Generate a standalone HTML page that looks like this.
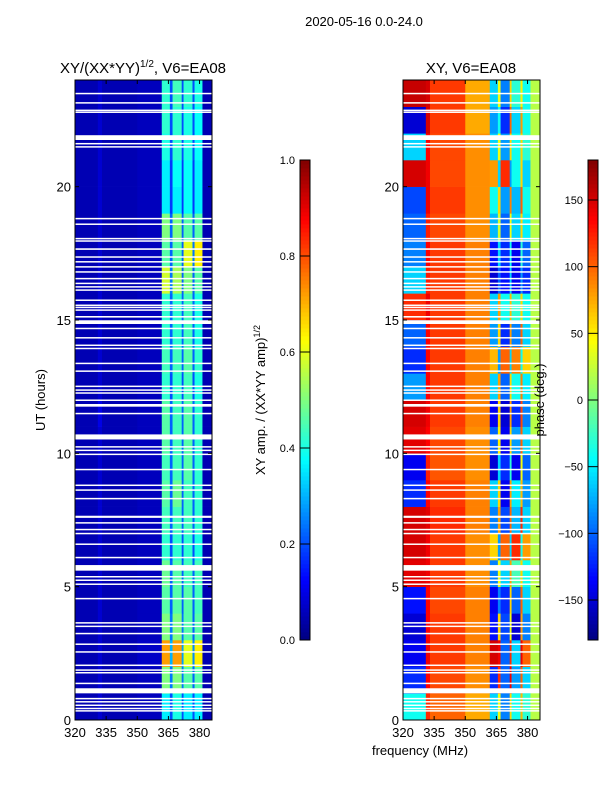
<!DOCTYPE html>
<html><head><meta charset="utf-8">
<style>
html,body{margin:0;padding:0;background:#fff;}
svg{display:block;font-family:"Liberation Sans","DejaVu Sans",sans-serif;}
</style></head>
<body>
<svg id="fig" width="600" height="800" viewBox="0 0 600 800" xmlns="http://www.w3.org/2000/svg">
<rect x="0" y="0" width="600" height="800" fill="#fff"/>
<text x="364" y="26" font-size="13" text-anchor="middle">2020-05-16 0.0-24.0</text>
<text x="143" y="73" font-size="15" text-anchor="middle">XY/(XX*YY)<tspan font-size="10" dy="-6">1/2</tspan><tspan dy="6">, V6=EA08</tspan></text>
<text x="471" y="73" font-size="15" text-anchor="middle">XY, V6=EA08</text>
<text x="45" y="400" font-size="13" text-anchor="middle" transform="rotate(-90 45 400)">UT (hours)</text>
<text x="420" y="755" font-size="13" text-anchor="middle">frequency (MHz)</text>
<text x="265" y="400" font-size="13" text-anchor="middle" transform="rotate(-90 265 400)">XY amp. / (XX*YY amp)<tspan font-size="9" dy="-5">1/2</tspan></text>
<g id="ampPanel"></g>
<g id="phasePanel"></g>
<g id="axes"></g>
<g id="cbars"></g>
<text x="544" y="400" font-size="13" text-anchor="middle" transform="rotate(-90 544 400)">phase (deg.)</text>
</svg>
<script>
// frequency bin edges (MHz)
const freqEdges = [320,331,333,350,361.8,365.7,367,371.4,372.3,376.6,377.6,381.4,386];
// normalized amplitude, one row per hour (0..23), columns per freq bin
const ampRows = [
[0.05,0.08,0.05,0.06,0.36,0.2,0.40,0.2,0.36,0.2,0.36,0.05],
[0.05,0.08,0.05,0.06,0.50,0.24,0.50,0.24,0.46,0.22,0.46,0.05],
[0.05,0.08,0.05,0.07,0.72,0.3,0.72,0.28,0.60,0.26,0.64,0.05],
[0.05,0.08,0.05,0.06,0.50,0.24,0.50,0.24,0.46,0.22,0.46,0.05],
[0.05,0.08,0.05,0.06,0.46,0.22,0.46,0.22,0.46,0.22,0.44,0.05],
[0.05,0.08,0.05,0.06,0.48,0.22,0.46,0.22,0.44,0.22,0.44,0.05],
[0.05,0.08,0.05,0.06,0.42,0.2,0.42,0.2,0.42,0.2,0.40,0.05],
[0.05,0.08,0.05,0.06,0.44,0.22,0.44,0.22,0.44,0.22,0.42,0.05],
[0.05,0.08,0.05,0.06,0.46,0.22,0.48,0.22,0.44,0.22,0.42,0.05],
[0.05,0.08,0.05,0.06,0.44,0.22,0.44,0.22,0.46,0.22,0.42,0.05],
[0.05,0.08,0.05,0.06,0.46,0.22,0.44,0.22,0.46,0.22,0.42,0.05],
[0.05,0.1,0.05,0.06,0.46,0.22,0.44,0.22,0.46,0.22,0.42,0.05],
[0.05,0.08,0.05,0.06,0.42,0.2,0.42,0.2,0.44,0.2,0.40,0.05],
[0.05,0.08,0.05,0.06,0.44,0.22,0.44,0.22,0.46,0.22,0.42,0.05],
[0.05,0.08,0.05,0.06,0.42,0.22,0.42,0.22,0.44,0.22,0.40,0.05],
[0.05,0.08,0.05,0.06,0.42,0.22,0.42,0.22,0.44,0.22,0.40,0.05],
[0.05,0.08,0.05,0.06,0.58,0.24,0.54,0.22,0.50,0.22,0.46,0.05],
[0.05,0.08,0.05,0.06,0.46,0.22,0.46,0.22,0.60,0.24,0.64,0.05],
[0.05,0.08,0.05,0.06,0.50,0.22,0.50,0.22,0.46,0.22,0.46,0.05],
[0.05,0.08,0.05,0.06,0.36,0.18,0.36,0.18,0.38,0.18,0.36,0.05],
[0.05,0.08,0.05,0.06,0.36,0.18,0.38,0.18,0.38,0.18,0.36,0.05],
[0.05,0.08,0.05,0.06,0.40,0.2,0.42,0.2,0.40,0.2,0.38,0.05],
[0.05,0.08,0.05,0.06,0.42,0.2,0.42,0.2,0.40,0.2,0.38,0.05],
[0.05,0.08,0.05,0.06,0.42,0.2,0.44,0.2,0.42,0.2,0.40,0.05]
];
// phase in degrees, one row per hour
const phaseRows = [
[-40,120,100,75,-60,40,-90,60,-40,70,-30,20],
[-120,135,110,85,-120,120,-100,140,-80,100,-60,20],
[-140,140,115,90,150,140,-100,120,-60,140,100,20],
[-150,135,115,90,-130,60,-110,40,-150,80,-90,20],
[-130,135,110,90,-140,-90,-120,60,-100,100,-60,20],
[145,140,115,85,-90,40,-60,80,-20,60,-40,20],
[150,140,115,85,60,-80,100,-60,120,-40,80,20],
[150,145,120,90,-90,80,-110,100,-70,120,-60,20],
[-120,135,115,90,-60,60,-140,80,-50,70,-80,20],
[-140,125,105,85,-150,-60,-120,-30,-140,40,-100,20],
[145,135,110,85,-100,50,-140,60,-80,100,-60,20],
[150,140,115,90,-140,60,-150,80,-120,110,-90,20],
[-80,135,115,90,-60,80,-100,60,-40,90,-50,20],
[-120,135,115,90,70,-80,100,-60,90,-40,60,20],
[-100,135,115,90,-80,60,-120,80,-90,100,-60,20],
[120,140,115,90,-60,80,-40,70,-30,60,-40,20],
[-60,125,115,90,-150,-100,-130,-60,-140,-80,-120,20],
[-90,135,115,90,-130,-60,-120,-40,-140,-30,-100,20],
[-100,125,110,85,-70,30,-100,40,-60,60,-50,20],
[-110,140,115,85,-40,60,-80,90,-70,100,-40,20],
[150,140,110,85,80,-60,120,-80,-40,60,-60,20],
[-60,135,110,85,-60,40,-80,60,-40,60,-30,20],
[-150,150,115,75,-80,-40,-120,100,-60,80,-40,20],
[155,150,115,75,-60,40,-90,60,-30,50,-40,20]
];
// flagged (blank) time ranges in hours [start, end]
const gapRanges = [
[0.33,0.37],[0.42,0.46],[0.54,0.58],[0.67,0.71],[0.79,0.83],[1.0,1.19],[1.36,1.4],[1.76,1.8],[1.86,1.9],[2.04,2.08],
[2.54,2.58],[2.83,2.87],[3.23,3.27],[3.5,3.54],[3.63,3.67],[4.54,4.58],[5.08,5.12],[5.23,5.27],[5.36,5.4],[5.6,5.81],
[6.08,6.12],[6.58,6.62],[6.98,7.02],[7.13,7.17],[7.38,7.42],[7.58,7.66],[8.29,8.33],[8.61,8.65],[8.79,8.83],[9.38,9.42],
[9.95,9.99],[10.1,10.14],[10.23,10.27],[10.52,10.71],[11.48,11.52],[11.75,11.85],[11.98,12.02],[12.25,12.29],[12.36,12.4],[12.5,12.54],
[13.07,13.11],[13.36,13.4],[13.92,13.96],[14.04,14.08],[14.32,14.36],[14.67,14.71],[14.85,14.99],[15.09,15.15],[15.36,15.4],[15.46,15.5],
[15.54,15.58],[15.73,15.77],[16.11,16.15],[16.23,16.27],[16.36,16.4],[16.54,16.58],[16.79,16.83],[16.98,17.02],[17.17,17.21],[17.35,17.39],
[17.63,17.69],[17.95,17.99],[18.04,18.08],[18.58,18.62],[18.79,18.83],[21.48,21.52],[21.6,21.64],[21.75,21.93],[22.78,22.82],[22.85,22.89],
[23.13,23.17],[23.48,23.52]
];
const yTicks = [0,5,10,15,20];
const xTicks = [320,335,350,365,380];
const ampCbTicks = [0.0,0.2,0.4,0.6,0.8,1.0];
const phaseCbTicks = [-150,-100,-50,0,50,100,150];

const NS = "http://www.w3.org/2000/svg";
const T0 = 0, T1 = 24, F0 = 320, F1 = 386;
const PTOP = 80, PBOT = 720;
function yScale(t){ return PBOT - (t - T0) / (T1 - T0) * (PBOT - PTOP); }
function xScale(f, x0, x1){ return x0 + (f - F0) / (F1 - F0) * (x1 - x0); }
function jet(v){
  v = Math.max(0, Math.min(1, v));
  const c = (a) => Math.max(0, Math.min(1, a));
  const r = c(1.5 - Math.abs(4*v - 3));
  const g = c(1.5 - Math.abs(4*v - 2));
  const b = c(1.5 - Math.abs(4*v - 1));
  return "rgb(" + Math.round(r*255) + "," + Math.round(g*255) + "," + Math.round(b*255) + ")";
}
function mk(tag, attrs, parent){
  const e = document.createElementNS(NS, tag);
  for (const k in attrs) e.setAttribute(k, attrs[k]);
  parent.appendChild(e);
  return e;
}
function drawPanel(g, rows, x0, x1, norm, name){
  rows.forEach((row, h) => {
    row.forEach((val, c) => {
      const xa = xScale(freqEdges[c], x0, x1), xb = xScale(freqEdges[c+1], x0, x1);
      const ya = yScale(h + 1), yb = yScale(h);
      const r = mk("rect", {x: xa, y: ya, width: xb - xa + 0.3, height: yb - ya + 0.3, fill: jet(norm(val))}, g);
      
      
    });
  });
  gapRanges.forEach((gr) => {
    const ya = yScale(gr[1]), yb = yScale(gr[0]);
    const r = mk("rect", {x: x0, y: ya, width: x1 - x0, height: Math.max(1.5, yb - ya), fill: "#fff"}, g);
    
    
  });
}
const ampG = document.getElementById("ampPanel");
const phG = document.getElementById("phasePanel");
drawPanel(ampG, ampRows, 75, 212, v => v, 'amp');
drawPanel(phG, phaseRows, 403, 540, v => (v + 180) / 360, 'phase');

const axG = document.getElementById("axes");
[[75,212,'amp'],[403,540,'phase']].forEach(([x0,x1,nm]) => {
  const fr = mk("rect", {x: x0, y: PTOP, width: x1 - x0, height: PBOT - PTOP, fill: "none", stroke: "#000", "stroke-width": 1}, axG);
  
  
  yTicks.forEach(t => {
    const y = yScale(t);
    mk("line", {x1: x0, y1: y, x2: x0 + 4, y2: y, stroke: "#000"}, axG);
    mk("line", {x1: x1, y1: y, x2: x1 - 4, y2: y, stroke: "#000"}, axG);
    const tx = mk("text", {x: x0 - 4, y: y + 5, "font-size": 13, "text-anchor": "end"}, axG);
    tx.textContent = t;
    
    
  });
  xTicks.forEach(f => {
    const x = xScale(f, x0, x1);
    mk("line", {x1: x, y1: PBOT, x2: x, y2: PBOT - 4, stroke: "#000"}, axG);
    mk("line", {x1: x, y1: PTOP, x2: x, y2: PTOP + 4, stroke: "#000"}, axG);
    const tx = mk("text", {x: x, y: PBOT + 17, "font-size": 13, "text-anchor": "middle"}, axG);
    tx.textContent = f;
    
    
  });
});

const cbG = document.getElementById("cbars");
function drawCbar(x, ticks, lo, hi, nm){
  const CT = 160, CB = 640, W = 10;
  for (let i = 0; i < 120; i++) {
    const v = i / 120;
    const r = mk("rect", {x: x, y: CB - (i + 1) * (CB - CT) / 120, width: W, height: (CB - CT) / 120 + 0.4, fill: jet(v + 0.5/120)}, cbG);
    
    
  }
  const fr = mk("rect", {x: x, y: CT, width: W, height: CB - CT, fill: "none", stroke: "#000"}, cbG);
  
  
  ticks.forEach(t => {
    const y = CB - (t - lo) / (hi - lo) * (CB - CT);
    mk("line", {x1: x, y1: y, x2: x + W, y2: y, stroke: "#000"}, cbG);
    const tx = mk("text", {x: x - 5, y: y + 4, "font-size": 11, "text-anchor": "end"}, cbG);
    tx.textContent = (nm === 'amp') ? t.toFixed(1) : (t < 0 ? "\u2212" + Math.abs(t) : String(t));
    
    
  });
}
drawCbar(300, ampCbTicks, 0, 1, 'amp');
drawCbar(588, phaseCbTicks, -180, 180, 'phase');
</script>
</body></html>
